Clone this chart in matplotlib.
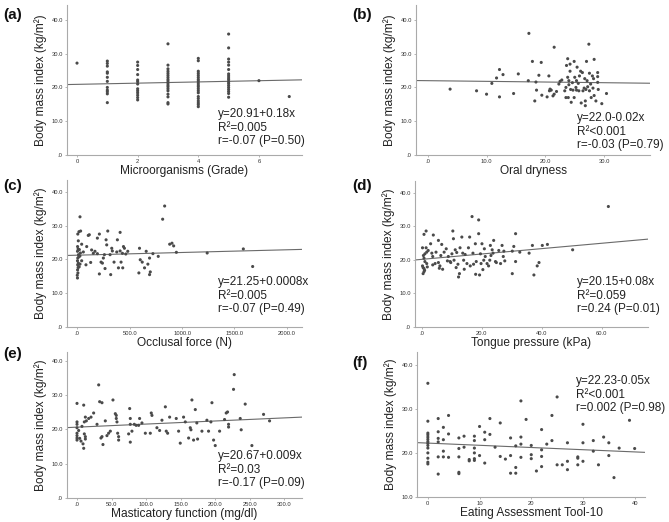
import numpy as np
import matplotlib
matplotlib.use("Agg")
import matplotlib.pyplot as plt

plt.rcParams['font.family'] = ['Liberation Sans', 'DejaVu Sans']

# (a) microorganisms grade vs BMI
a_grade = [0, 1, 2, 3, 4, 5, 6, 7]
a_bmi = [
    [27.2],
    [27.8, 27.1, 26.3, 24.6, 24.2, 23.0, 21.8, 20.0, 19.2, 18.7, 18.1, 15.5],
    [27.5, 26.5, 25.3, 23.8, 22.2, 21.7, 21.0, 19.6, 19.0, 18.4, 17.7, 17.0, 16.3],
    [32.9, 26.6, 25.5, 24.8, 24.2, 23.6, 23.0, 22.4, 21.9, 21.3, 20.7, 20.2, 19.6,
     19.0, 18.0, 17.2, 15.5, 15.1],
    [28.6, 27.9, 24.8, 24.2, 23.6, 23.0, 22.4, 21.9, 21.3, 20.7, 20.2, 19.6, 19.0,
     18.4, 17.3, 16.7, 16.0, 15.4, 14.9, 14.3],
    [35.8, 31.7, 28.4, 27.5, 26.6, 25.3, 24.0, 23.4, 22.8, 22.3, 21.7, 21.2, 20.6,
     20.0, 19.4, 18.8, 18.2, 17.1],
    [22.0],
    [17.3],
]

# (b) oral dryness
b_x = [3.8, 8.3, 10.0, 10.9, 11.7, 12.2, 12.2, 12.8, 14.6, 15.4, 17.1, 17.2, 17.8, 18.2,
       18.4, 18.5, 18.9, 19.3, 19.4, 20.3, 20.6, 20.7, 20.8, 21.0, 21.3, 21.5, 21.5,
       21.9, 22.3, 22.5, 22.8, 23.3, 23.5, 23.5, 23.6, 23.8, 23.8, 23.9, 24.0, 24.0,
       24.2, 24.2, 24.3, 24.4, 24.6, 24.7, 24.9, 24.9, 25.0, 25.2, 25.3, 25.3, 25.4,
       25.6, 25.7, 25.8, 26.0, 26.1, 26.3, 26.4, 26.6, 26.7, 26.8, 26.8, 26.9, 27.0,
       27.1, 27.2, 27.4, 27.5, 27.5, 27.7, 27.8, 28.0, 28.1, 28.2, 28.3, 28.3, 28.6,
       28.9, 28.9, 28.9, 29.0, 29.6, 30.4]
b_y = [19.5, 19.0, 18.0, 21.2, 22.8, 25.3, 17.2, 23.8, 18.2, 24.0, 22.0, 36.0, 27.7, 16.0,
       21.6, 19.2, 23.6, 27.4, 17.7, 17.2, 23.4, 19.0, 19.5, 19.2, 17.5, 31.9, 18.0,
       18.8, 21.0, 21.8, 22.2, 19.0, 20.0, 17.0, 26.5, 28.5, 23.0, 17.0, 22.0, 20.8,
       24.8, 26.9, 19.4, 15.6, 21.4, 19.2, 27.7, 17.0, 23.0, 20.0, 22.0, 19.2, 26.0,
       21.2, 19.0, 23.4, 24.8, 15.4, 24.4, 19.0, 19.8, 22.6, 16.0, 14.6, 19.4, 27.7,
       22.0, 20.2, 32.8, 24.2, 19.0, 21.0, 17.0, 23.4, 19.8, 22.6, 28.3, 17.6, 16.0,
       24.4, 23.2, 21.5, 19.4, 15.2, 18.2]

# (c) occlusal force
c_x = [5, 10, 3, 8, 2, 12, 5, 2, 10, 4, 8, 3, 6, 0, 2, 26, 16, 32, 42, 58, 42, 26,
       20, 25, 15, 18, 30, 90, 83, 105, 115, 128, 137, 153, 169, 192, 192, 211, 211,
       227, 240, 249, 259, 265, 275, 281, 291, 313, 319, 329, 335, 351, 377, 383, 393,
       409, 409, 418, 431, 434, 441, 450, 463, 482, 594, 601, 588, 620, 642, 658, 674,
       690, 697, 690, 722, 773, 815, 834, 882, 904, 920, 946, 1240, 1585, 1674]
c_y = [27.5, 25.5, 23.8, 23.1, 22.4, 21.4, 20.4, 19.6, 18.9, 18.4, 17.6, 16.9, 16.0,
       15.3, 14.5, 32.6, 28.2, 28.4, 24.5, 22.2, 19.6, 18.6, 22.9, 21.0, 20.8, 17.8,
       21.9, 23.8, 18.4, 27.1, 27.3, 19.1, 22.8, 21.8, 22.4, 21.7, 26.3, 27.5, 15.7,
       19.2, 18.9, 20.4, 21.4, 17.3, 25.8, 24.3, 28.4, 21.4, 15.5, 23.3, 22.5, 19.2,
       22.2, 25.8, 17.5, 28.0, 22.5, 19.2, 21.8, 17.5, 23.8, 23.3, 21.6, 22.4, 23.3,
       19.9, 16.0, 19.2, 17.5, 22.4, 18.6, 15.5, 16.3, 20.4, 21.7, 20.9, 31.9, 35.8,
       24.5, 24.8, 24.0, 22.1, 21.9, 23.1, 17.9]

# (d) tongue pressure
d_x = [0.8, 0.3, 0.3, 0.5, 0.8, 1.0, 0.5, 0.6, 0.8, 0.8, 1.1, 1.1, 1.5, 1.5, 1.7, 1.7,
       1.9, 2.2, 3.0, 3.4, 3.7, 3.7, 3.9, 4.5, 4.8, 5.6, 5.6, 5.9, 6.1, 6.4, 6.7, 7.0,
       7.5, 8.2, 8.6, 8.9, 9.5, 9.7, 10.1, 10.4, 10.6, 10.8, 11.2, 11.5, 11.7, 12.1,
       12.3, 12.6, 12.8, 13.4, 13.7, 14.0, 14.2, 14.5, 15.1, 15.6, 16.0, 16.2, 16.8,
       17.1, 17.3, 17.9, 18.0, 18.2, 19.0, 19.0, 19.3, 19.6, 19.8, 20.1, 20.4, 20.7,
       20.9, 21.2, 21.8, 22.3, 22.7, 22.9, 23.1, 23.5, 23.8, 24.0, 24.6, 24.9, 25.7,
       26.3, 26.8, 27.2, 27.4, 27.7, 30.2, 30.2, 30.7, 31.3, 31.3, 32.7, 35.8, 36.9,
       37.4, 38.5, 39.1, 40.2, 41.9, 50.3, 62.2]
d_y = [27.6, 23.6, 18.2, 17.7, 17.4, 16.9, 15.9, 21.3, 20.5, 16.5, 21.8, 19.5, 28.6,
       23.6, 22.3, 18.9, 17.9, 22.8, 24.8, 22.0, 18.5, 21.0, 27.4, 18.9, 22.3, 25.8,
       19.2, 17.5, 18.2, 21.3, 24.6, 17.2, 22.3, 23.3, 19.7, 21.0, 19.5, 19.2, 21.8,
       28.6, 26.3, 19.9, 23.0, 17.7, 22.2, 18.7, 14.9, 15.9, 23.6, 26.8, 22.0, 19.9,
       17.2, 21.6, 18.9, 23.6, 26.8, 18.2, 32.9, 22.0, 18.7, 24.8, 15.7, 19.5, 27.8,
       31.9, 15.5, 21.8, 18.9, 24.8, 17.1, 19.9, 23.3, 21.0, 18.9, 18.2, 19.9, 24.3,
       21.3, 23.0, 22.0, 25.8, 19.5, 19.2, 22.8, 18.9, 24.3, 21.0, 22.6, 19.7, 15.9,
       22.6, 24.0, 27.8, 19.5, 22.3, 22.0, 24.3, 15.5, 18.2, 19.2, 24.3, 24.6, 23.0,
       35.9]

# (e) masticatory function
e_x = [0, 0, 0, 0, 0, 0, 0, 0, 2.4, 3.9, 5.8, 7.2, 8.7, 9.7, 9.7, 10.6, 12.1, 10.6,
       12.1, 12.1, 13.5, 16.9, 20.3, 24.1, 29, 31.4, 32.8, 36.2, 34.7, 36.2, 37.6, 41,
       43.4, 45.8, 48.3, 52.1, 55.5, 56.9, 56.9, 57.9, 58.9, 60.3, 60.3, 74.8, 76.3,
       77.2, 77.2, 77.2, 79.6, 83, 85.7, 89.3, 90.7, 94.1, 99, 106.2, 107.6, 108.6,
       115.8, 119.7, 123.1, 128, 129.3, 131.3, 134.2, 143.8, 147.2, 149.6, 154.4,
       156.9, 161.7, 164.1, 165.1, 166.5, 168.9, 171.4, 173.6, 174.7, 181, 188.2,
       190.6, 194, 195.5, 197.9, 200.3, 206.6, 213.8, 216.2, 218.1, 219.6, 219.6,
       226.8, 227.8, 236.5, 237.9, 243.7, 253.4, 270.3, 279]
e_y = [27.6, 22.2, 21.5, 20.5, 18.9, 18.2, 17.5, 16.9, 19.7, 17.4, 16.6, 20.9, 15.8,
       14.5, 27.1, 22.2, 23.6, 18.7, 17.9, 17.2, 22.5, 23.2, 23.6, 24.8, 21.5, 33.0,
       28.1, 27.8, 17.5, 17.9, 15.6, 22.5, 18.2, 18.9, 19.5, 28.6, 24.6, 24.1, 23.2,
       22.2, 18.9, 17.9, 16.9, 18.7, 26.1, 23.2, 21.5, 16.3, 19.5, 21.5, 21.2, 21.2,
       23.2, 21.9, 18.9, 18.9, 24.8, 24.1, 20.5, 19.7, 22.7, 26.6, 19.5, 18.9, 23.6,
       23.2, 19.5, 16.0, 23.6, 22.2, 17.5, 20.5, 19.9, 28.6, 16.9, 25.8, 21.9, 17.2,
       19.5, 22.7, 19.5, 22.2, 27.8, 16.9, 15.3, 19.5, 22.9, 24.8, 25.1, 21.5, 20.7,
       31.7, 36.0, 23.2, 19.9, 27.4, 15.3, 24.4, 22.5]

# (f) EAT-10
f_x = [0]*14 + [2]*6 + [3]*4 + [4]*3 + [6]*5 + [7]*2 + [8]*2 + [9]*6 + [10]*2 + \
      [11]*3 + [12]*2 + [13] + [14]*2 + [15] + [16]*3 + [17]*3 + [18]*4 + [19] + \
      [20]*3 + [21] + [22]*4 + [23] + [24]*2 + [25]*2 + [26] + [27]*3 + [29]*3 + \
      [30]*3 + [32]*2 + [33] + [34] + [35]*2 + [36] + [37] + [39] + [40]
f_y = [35.8, 27.2, 24.5, 24.1, 23.6, 23.1, 22.6, 22.2, 21.7, 21.1, 20.0, 18.8, 17.9, 17.5,
       27.8, 24.8, 23.3, 22.5, 19.1, 15.2,
       25.8, 23.0, 20.4, 19.1,
       28.5, 24.3, 19.0,
       23.4, 21.0, 19.1, 15.6, 15.3,
       23.8, 21.3,
       18.5, 18.2,
       23.8, 22.8, 21.1, 20.0, 18.7, 18.3,
       26.0, 19.4,
       24.7, 23.0, 17.7,
       27.8, 24.2,
       21.3,
       26.8, 19.2,
       18.6,
       23.4, 19.4, 15.4,
       21.6, 16.7, 15.4,
       31.8, 23.6, 22.0, 19.0,
       27.6,
       21.7, 19.6, 18.7,
       15.9,
       25.3, 20.7, 19.2, 16.9,
       22.0,
       28.5, 22.8,
       32.7, 17.3,
       17.3,
       22.3, 18.1, 16.2,
       19.1, 18.8, 17.3,
       26.5, 22.3, 18.1,
       22.8, 20.4,
       17.3,
       23.6,
       22.3, 19.4,
       14.4,
       21.1,
       27.4,
       21.0]

# regression results printed on each panel
fits = [(20.91, 0.18), (22.0, -0.02), (21.25, 0.0008), (20.15, 0.08), (20.67, 0.009), (22.23, -0.05)]
stats = [
    "y=20.91+0.18x\nR\u00b2=0.005\nr=-0.07 (P=0.50)",
    "y=22.0-0.02x\nR\u00b2<0.001\nr=-0.03 (P=0.79)",
    "y=21.25+0.0008x\nR\u00b2=0.005\nr=-0.07 (P=0.49)",
    "y=20.15+0.08x\nR\u00b2=0.059\nr=0.24 (P=0.01)",
    "y=20.67+0.009x\nR\u00b2=0.03\nr=-0.17 (P=0.09)",
    "y=22.23-0.05x\nR\u00b2<0.001\nr=0.002 (P=0.98)",
]
xlabels = ["Microorganisms (Grade)", "Oral dryness", "Occlusal force (N)",
           "Tongue pressure (kPa)", "Masticatory function (mg/dl)", "Eating Assessment Tool-10"]
letters = ["(a)", "(b)", "(c)", "(d)", "(e)", "(f)"]

a_x = [g for g, ys in zip(a_grade, a_bmi) for _ in ys]
a_y = [v for ys in a_bmi for v in ys]
xs = [a_x, b_x, c_x, d_x, e_x, f_x]
ys = [a_y, b_y, c_y, d_y, e_y, f_y]

W, H = 669, 522
# left, right, top, bottom in pixels
boxes = [(67, 302, 5, 155), (416, 650, 5, 155), (67, 302, 180, 327),
         (415, 648, 181, 327), (67, 302, 352, 498), (417, 645, 352, 497)]
xlims = [(-0.33, 7.42), (-2.0, 37.8), (-98, 2145), (-2.2, 75.4), (-14.5, 326), (-2.1, 42)]
ylims = [(0, 44.4), (0, 44.4), (0, 43.5), (0, 43.5), (0, 42.6), (10, 42.9)]
xticks = [[0, 2, 4, 6], [0, 10, 20, 30], [0, 500, 1000, 1500, 2000], [0, 20, 40, 60],
          [0, 50, 100, 150, 200, 250, 300], [0, 10, 20, 30, 40]]
# text position (left x, first line top y) in pixels
txt_pos = [(218, 108), (577, 112), (218, 276), (577, 276), (218, 450), (576, 375)]
letter_pos = [(3, 15), (352, 15), (3, 186), (352, 186), (3, 354), (352, 363)]


def fmt(v, integer):
    if integer:
        return "%d" % v
    if v == 0:
        return ".0"
    return "%.1f" % v


fig = plt.figure(figsize=(W / 100, H / 100), dpi=100)

for i in range(6):
    l, r, t, b = boxes[i]
    ax = fig.add_axes([l / W, 1 - b / H, (r - l) / W, (b - t) / H])
    ax.scatter(xs[i], ys[i], s=5, color='#4a4a4a', edgecolors='none', zorder=3)
    x0, x1 = xlims[i]
    a0, a1 = fits[i]
    ax.plot([x0, x1], [a0 + a1 * x0, a0 + a1 * x1], color='#6a6a6a', lw=0.8, zorder=2)
    ax.set_xlim(x0, x1)
    ax.set_ylim(*ylims[i])

    integer_x = i in (0, 5)
    ax.set_xticks(xticks[i])
    ax.set_xticklabels([fmt(v, integer_x) for v in xticks[i]])
    yt = [10, 20, 30, 40] if i == 5 else [0, 10, 20, 30, 40]
    ax.set_yticks(yt)
    ax.set_yticklabels([fmt(v, False) for v in yt])
    ax.tick_params(labelsize=4.2, length=1.5, width=0.5, colors='#999999',
                   labelcolor='#333333', pad=1.5)

    for s in ['top', 'right']:
        ax.spines[s].set_visible(False)
    for s in ['left', 'bottom']:
        ax.spines[s].set_color('#aaaaaa')
        ax.spines[s].set_linewidth(0.8)

    ax.set_xlabel(xlabels[i], fontsize=8.6, labelpad=0.5, color='#222222')
    ax.set_ylabel("Body mass index (kg/m\u00b2)", fontsize=8.6, labelpad=3, color='#222222')

    tx, ty = txt_pos[i]
    fig.text(tx / W, 1 - ty / H, stats[i], fontsize=8.5, va='top', ha='left',
             linespacing=1.18, color='#222222')
    lx, ly = letter_pos[i]
    fig.text(lx / W, 1 - ly / H, letters[i], fontsize=11, fontweight='bold',
             va='center', ha='left', color='#111111')

fig.savefig("out.png", dpi=100, facecolor='white')
